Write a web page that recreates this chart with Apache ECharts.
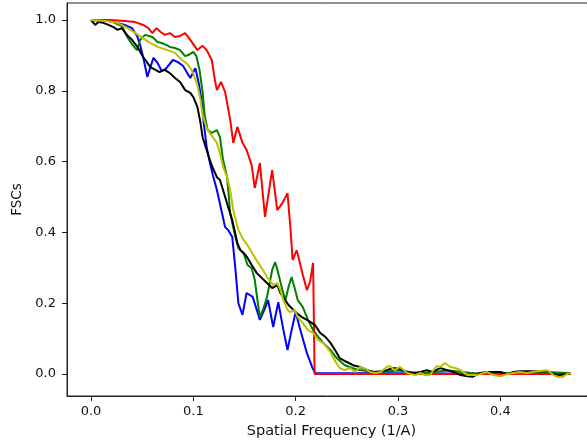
<!DOCTYPE html>
<html>
<head>
<meta charset="utf-8">
<script src="https://cdn.jsdelivr.net/npm/echarts@6/dist/echarts.min.js"></script>
<style>
  html, body { margin: 0; padding: 0; background: #fff; }
  #fsc { width: 587px; height: 446px; }
</style>
</head>
<body>
<div id="fsc"></div>
<script>
// tick labels
var xTicks = [0, 0.1, 0.2, 0.3, 0.4]
var yTicks = [0, 0.2, 0.4, 0.6, 0.8, 1.0]

// FSC curves, [spatial frequency, fsc]
var blueCurve = [[0,1.0],[0.019,0.997],[0.033,0.986],[0.040,0.977],[0.045,0.955],[0.048,0.929],[0.051,0.895],[0.055,0.839],[0.058,0.867],[0.061,0.893],[0.065,0.879],[0.069,0.856],[0.073,0.862],[0.080,0.887],[0.085,0.881],[0.090,0.870],[0.094,0.850],[0.097,0.836],[0.100,0.853],[0.102,0.864],[0.105,0.825],[0.108,0.774],[0.110,0.712],[0.113,0.641],[0.116,0.599],[0.119,0.562],[0.123,0.520],[0.128,0.455],[0.131,0.415],[0.134,0.407],[0.138,0.387],[0.141,0.299],[0.144,0.200],[0.148,0.167],[0.152,0.229],[0.158,0.218],[0.165,0.153],[0.170,0.186],[0.173,0.209],[0.178,0.133],[0.183,0.203],[0.188,0.124],[0.192,0.068],[0.196,0.124],[0.200,0.175],[0.204,0.130],[0.211,0.059],[0.216,0.020],[0.219,0.003],[0.469,0]]

var greenCurve = [[0,1.0],[0.019,0.997],[0.030,0.983],[0.036,0.949],[0.040,0.932],[0.043,0.921],[0.045,0.915],[0.048,0.944],[0.053,0.958],[0.060,0.952],[0.065,0.938],[0.069,0.935],[0.074,0.929],[0.077,0.924],[0.082,0.921],[0.087,0.915],[0.092,0.898],[0.095,0.901],[0.100,0.910],[0.103,0.898],[0.106,0.859],[0.109,0.797],[0.111,0.732],[0.114,0.689],[0.118,0.681],[0.123,0.689],[0.126,0.669],[0.129,0.605],[0.133,0.556],[0.136,0.455],[0.141,0.387],[0.144,0.356],[0.149,0.342],[0.153,0.308],[0.157,0.299],[0.160,0.266],[0.163,0.201],[0.165,0.161],[0.168,0.181],[0.172,0.218],[0.177,0.294],[0.180,0.316],[0.183,0.285],[0.187,0.237],[0.190,0.209],[0.193,0.246],[0.196,0.274],[0.199,0.243],[0.202,0.209],[0.207,0.189],[0.212,0.153],[0.217,0.124],[0.222,0.105],[0.227,0.088],[0.234,0.068],[0.240,0.045],[0.248,0.025],[0.260,0.012],[0.280,0.005],[0.300,0.010],[0.320,0.002],[0.350,0.010],[0.380,0.0],[0.420,0.003],[0.450,0.005],[0.469,0.002]]

var redCurve = [[0,1.0],[0.019,1.0],[0.033,0.997],[0.043,0.994],[0.051,0.986],[0.056,0.977],[0.060,0.963],[0.064,0.977],[0.068,0.966],[0.072,0.958],[0.077,0.963],[0.082,0.952],[0.087,0.955],[0.092,0.963],[0.097,0.944],[0.104,0.915],[0.109,0.927],[0.113,0.915],[0.118,0.887],[0.121,0.831],[0.123,0.802],[0.127,0.825],[0.131,0.797],[0.136,0.718],[0.139,0.653],[0.143,0.698],[0.148,0.653],[0.152,0.633],[0.157,0.590],[0.160,0.525],[0.165,0.596],[0.170,0.444],[0.177,0.576],[0.182,0.463],[0.187,0.483],[0.192,0.511],[0.195,0.407],[0.197,0.322],[0.201,0.350],[0.207,0.280],[0.211,0.237],[0.214,0.260],[0.217,0.314],[0.2185,0],[0.469,0]]

var blackCurve = [[0,1.0],[0.004,0.986],[0.007,0.994],[0.012,0.992],[0.017,0.986],[0.022,0.980],[0.026,0.972],[0.030,0.977],[0.035,0.958],[0.040,0.944],[0.046,0.921],[0.051,0.895],[0.058,0.867],[0.063,0.859],[0.067,0.853],[0.072,0.859],[0.077,0.850],[0.082,0.836],[0.087,0.825],[0.092,0.802],[0.097,0.794],[0.100,0.782],[0.104,0.754],[0.107,0.709],[0.109,0.669],[0.113,0.633],[0.116,0.605],[0.119,0.582],[0.123,0.556],[0.126,0.548],[0.129,0.520],[0.134,0.472],[0.138,0.435],[0.143,0.370],[0.146,0.350],[0.151,0.336],[0.153,0.328],[0.157,0.308],[0.162,0.285],[0.167,0.271],[0.172,0.257],[0.177,0.243],[0.182,0.251],[0.185,0.229],[0.193,0.195],[0.201,0.172],[0.206,0.161],[0.211,0.153],[0.216,0.144],[0.219,0.138],[0.224,0.116],[0.229,0.105],[0.234,0.088],[0.239,0.065],[0.243,0.045],[0.250,0.034],[0.256,0.025],[0.263,0.020],[0.270,0.011],[0.276,0.006],[0.283,0.008],[0.289,0.011],[0.295,0.017],[0.302,0.014],[0.309,0.006],[0.315,0.003],[0.322,0.006],[0.328,0.011],[0.334,0.006],[0.341,0.017],[0.348,0.011],[0.354,0.006],[0.361,-0.003],[0.368,-0.006],[0.373,-0.008],[0.380,0.003],[0.387,0.006],[0.393,0.006],[0.400,0.006],[0.407,0.0],[0.413,0.006],[0.419,0.008],[0.426,0.008],[0.432,0.008],[0.439,0.008],[0.446,0.008],[0.452,0.0],[0.458,-0.003],[0.465,0.0],[0.469,0.003]]

var yellowCurve = [[0,1.0],[0.014,0.997],[0.026,0.992],[0.036,0.977],[0.046,0.958],[0.056,0.938],[0.065,0.924],[0.075,0.915],[0.082,0.907],[0.089,0.887],[0.094,0.876],[0.099,0.856],[0.104,0.816],[0.107,0.774],[0.109,0.732],[0.113,0.695],[0.116,0.681],[0.119,0.669],[0.123,0.653],[0.126,0.624],[0.129,0.585],[0.133,0.556],[0.136,0.520],[0.139,0.463],[0.144,0.407],[0.149,0.379],[0.153,0.364],[0.158,0.339],[0.163,0.316],[0.168,0.294],[0.172,0.274],[0.178,0.251],[0.182,0.257],[0.185,0.237],[0.188,0.209],[0.192,0.181],[0.195,0.175],[0.199,0.181],[0.202,0.161],[0.207,0.144],[0.212,0.124],[0.217,0.116],[0.222,0.096],[0.227,0.088],[0.234,0.062],[0.239,0.034],[0.243,0.017],[0.248,0.011],[0.253,0.017],[0.258,0.006],[0.263,0.020],[0.266,0.017],[0.273,0.006],[0.278,0.003],[0.283,0.006],[0.289,0.020],[0.292,0.023],[0.297,0.011],[0.302,0.020],[0.309,0.003],[0.317,-0.003],[0.322,0.003],[0.326,-0.003],[0.331,-0.003],[0.338,0.023],[0.341,0.020],[0.346,0.031],[0.351,0.020],[0.356,0.017],[0.361,0.011],[0.368,-0.003],[0.377,-0.003],[0.387,0.006],[0.393,-0.003],[0.400,-0.006],[0.407,0.0],[0.413,0.003],[0.419,0.006],[0.426,0.003],[0.436,0.008],[0.446,0.011],[0.452,-0.003],[0.456,-0.008],[0.461,-0.008],[0.465,0.0],[0.469,0.003]]

var font = 'DejaVu Sans'

function curve(data, color) {
  return {
    type: 'line',
    data: data,
    showSymbol: false,
    symbol: 'none',
    smooth: false,
    lineStyle: { color: color, width: 2 },
    itemStyle: { color: color }
  }
}

var chart = echarts.init(document.getElementById('fsc'))
chart.setOption({
  animation: false,
  backgroundColor: '#fff',
  textStyle: { fontFamily: font },
  // plot box runs a little past the right edge, like the cropped figure
  grid: {
    left: 67, top: 3, right: -9, bottom: 50,
    outerBoundsMode: 'none',
    containLabel: false,
    show: true, borderColor: '#222', borderWidth: 1, backgroundColor: 'transparent'
  },
  xAxis: {
    type: 'value',
    min: -0.0235,
    max: 0.4935,
    name: 'Spatial Frequency (1/A)',
    nameLocation: 'middle',
    nameGap: 28,
    nameTextStyle: { fontFamily: font, fontSize: 14.5, color: '#111' },
    axisLine: { show: true, onZero: false, lineStyle: { color: '#222', width: 1 } },
    axisTick: { show: true, inside: false, length: 5, customValues: xTicks, lineStyle: { color: '#222' } },
    axisLabel: {
      customValues: xTicks, margin: 9, fontFamily: font, fontSize: 13, color: '#111',
      formatter: function (v) { return v.toFixed(1) }
    },
    splitLine: { show: false }
  },
  yAxis: {
    type: 'value',
    min: -0.062,
    max: 1.048,
    name: 'FSCs',
    nameLocation: 'middle',
    nameGap: 38,
    nameTextStyle: { fontFamily: font, fontSize: 13.5, color: '#111' },
    axisLine: { show: true, onZero: false, lineStyle: { color: '#222', width: 1 } },
    axisTick: { show: true, inside: false, length: 5, customValues: yTicks, lineStyle: { color: '#222' } },
    axisLabel: {
      customValues: yTicks, margin: 11, fontFamily: font, fontSize: 13, color: '#111',
      formatter: function (v) { return v.toFixed(1) }
    },
    splitLine: { show: false }
  },
  series: [
    curve(blueCurve, '#0000ff'),
    curve(greenCurve, '#008000'),
    curve(redCurve, '#ff0000'),
    curve(blackCurve, '#000000'),
    curve(yellowCurve, '#bfbf00')
  ]
})
</script>
</body>
</html>
